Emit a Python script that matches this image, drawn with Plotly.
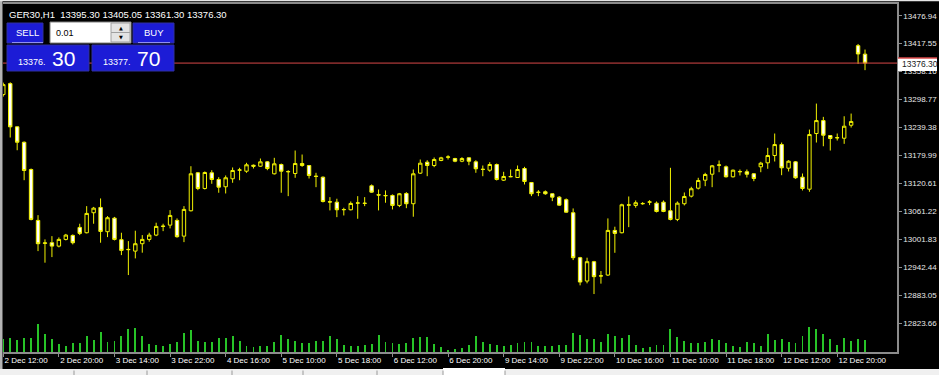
import plotly.graph_objects as go

# ---------------- data ----------------
bar_index = list(range(125))

open_ = [13309.4, 13332.7, 13240.9, 13208.2, 13150.3, 13042.2, 12993.3, 12994.8, 12987.6, 13001.8,
         13010.3, 13027.3, 13016.0, 13058.5, 13069.7, 13018.2, 13047.0, 13001.2, 12980.0, 12977.0,
         12992.7, 13001.8, 13011.0, 13030.1, 13032.2, 13042.2, 13008.8, 13062.7, 13143.3, 13110.0,
         13143.3, 13129.1, 13113.6, 13130.6, 13148.8, 13146.7, 13159.4, 13157.3, 13166.6, 13141.2,
         13160.9, 13145.4, 13141.8, 13163.0, 13158.8, 13136.1, 13134.0, 13081.8, 13080.9, 13064.8,
         13064.8, 13078.8, 13078.8, 13115.7, 13096.6, 13094.5, 13095.2, 13074.0, 13099.4, 13077.6,
         13142.5, 13165.8, 13158.8, 13169.4, 13176.4, 13173.6, 13167.9, 13175.1, 13166.6, 13150.9,
         13148.8, 13160.9, 13127.6, 13135.5, 13133.3, 13152.4, 13122.7, 13102.2, 13103.0, 13098.8,
         13091.6, 13086.1, 13058.5, 12963.0, 12913.4, 12954.5, 12924.0, 12926.1, 13020.9, 13016.0,
         13074.6, 13074.0, 13078.2, 13080.9, 13078.8, 13080.9, 13062.7, 13044.3, 13077.6, 13093.7,
         13110.6, 13127.6, 13140.3, 13159.4, 13156.0, 13134.8, 13146.1, 13145.4, 13141.2, 13156.0,
         13164.5, 13180.0, 13203.3, 13153.1, 13166.6, 13134.0, 13108.5, 13226.7, 13254.2, 13222.4,
         13217.5, 13216.7, 13244.3, 13413.3, 13395.30]

high = [13334.8, 13335.5, 13241.5, 13209.7, 13152.4, 13053.4, 13001.8, 13008.8, 13006.1, 13013.5,
        13012.4, 13035.1, 13072.5, 13070.8, 13088.8, 13051.3, 13049.6, 13016.0, 12998.2, 13020.3,
        13011.0, 13016.0, 13037.3, 13035.1, 13064.0, 13046.4, 13072.5, 13157.3, 13145.0, 13146.1,
        13148.8, 13134.0, 13137.6, 13154.6, 13153.9, 13164.5, 13160.9, 13173.6, 13168.3, 13175.1,
        13163.0, 13148.8, 13190.6, 13182.1, 13159.9, 13143.3, 13135.5, 13091.6, 13088.2, 13069.1,
        13082.4, 13093.7, 13091.6, 13118.5, 13107.9, 13105.8, 13097.3, 13100.5, 13102.2, 13150.3,
        13171.5, 13170.0, 13175.8, 13177.2, 13180.6, 13175.1, 13176.4, 13175.8, 13170.0, 13158.8,
        13165.8, 13163.0, 13145.4, 13150.3, 13158.8, 13156.0, 13123.8, 13106.4, 13105.8, 13099.4,
        13093.7, 13088.8, 13067.6, 12964.7, 12963.0, 12956.2, 12934.6, 13046.4, 13028.8, 13077.6,
        13093.0, 13084.6, 13081.0, 13085.2, 13082.4, 13084.6, 13153.9, 13082.4, 13101.5, 13113.6,
        13132.7, 13143.3, 13159.9, 13169.4, 13158.8, 13150.3, 13150.3, 13150.3, 13142.9, 13166.6,
        13196.3, 13226.7, 13207.6, 13170.0, 13168.3, 13141.8, 13235.1, 13290.3, 13262.1, 13223.5,
        13226.7, 13263.4, 13269.1, 13416.9, 13405.05]

low = [13305.2, 13218.2, 13191.2, 13127.6, 13042.2, 12977.0, 12952.4, 12964.3, 12984.9, 12999.7,
       12991.2, 13011.0, 13014.6, 13035.1, 12994.8, 13006.7, 12999.7, 12968.5, 12926.1, 12961.5,
       12973.6, 12997.0, 13008.8, 13019.4, 13025.2, 13005.4, 12996.1, 13061.2, 13106.4, 13107.9,
       13120.0, 13100.9, 13099.4, 13122.1, 13127.6, 13143.3, 13152.4, 13156.0, 13148.8, 13139.7,
       13100.9, 13093.7, 13132.7, 13156.0, 13131.2, 13112.8, 13080.3, 13063.4, 13049.1, 13052.7,
       13063.4, 13045.7, 13072.5, 13100.9, 13063.4, 13079.7, 13065.5, 13070.4, 13068.2, 13050.0,
       13140.8, 13136.1, 13155.2, 13167.9, 13171.5, 13165.8, 13165.8, 13159.4, 13143.3, 13136.1,
       13145.4, 13127.0, 13126.0, 13134.0, 13132.3, 13118.5, 13093.7, 13093.7, 13096.6, 13083.1,
       13073.3, 13058.5, 12957.9, 12904.3, 12908.5, 12885.8, 12907.9, 12924.4, 12973.4, 13014.6,
       13027.9, 13069.1, 13075.4, 13074.6, 13059.1, 13059.7, 13042.2, 13040.6, 13074.0, 13090.9,
       13107.9, 13114.9, 13112.8, 13144.6, 13133.3, 13133.3, 13137.6, 13133.3, 13125.5, 13144.6,
       13151.8, 13167.3, 13138.2, 13146.1, 13130.6, 13105.8, 13103.0, 13207.6, 13199.7, 13190.6,
       13211.8, 13204.8, 13239.4, 13374.5, 13361.30]

close = [13330.6, 13240.9, 13208.2, 13148.2, 13044.3, 12992.7, 12994.4, 12987.6, 13001.8, 13011.0,
         12994.8, 13014.6, 13057.0, 13068.2, 13018.8, 13047.9, 13001.8, 12978.5, 12980.5, 12992.7,
         13001.8, 13011.0, 13029.4, 13029.6, 13052.7, 13007.6, 13065.5, 13141.2, 13110.0, 13143.9,
         13129.1, 13112.8, 13132.7, 13148.2, 13149.3, 13160.3, 13157.3, 13166.6, 13152.4, 13162.4,
         13146.7, 13145.9, 13163.0, 13158.8, 13137.6, 13135.6, 13082.4, 13081.3, 13064.8, 13065.3,
         13078.2, 13079.3, 13078.3, 13102.2, 13096.1, 13095.0, 13074.0, 13098.8, 13077.6, 13141.2,
         13163.7, 13158.8, 13171.5, 13175.1, 13176.9, 13167.9, 13173.6, 13167.9, 13151.8, 13150.4,
         13160.9, 13129.1, 13135.5, 13135.0, 13150.3, 13124.9, 13098.8, 13101.7, 13098.8, 13091.6,
         13074.6, 13059.7, 12963.0, 12911.3, 12954.5, 12922.7, 12924.5, 13020.9, 13014.6, 13075.4,
         13075.1, 13079.7, 13077.7, 13081.4, 13061.2, 13061.2, 13044.3, 13078.8, 13093.0, 13109.4,
         13127.0, 13139.7, 13158.1, 13159.9, 13134.8, 13148.8, 13145.6, 13140.3, 13131.2, 13163.7,
         13180.0, 13203.3, 13153.9, 13167.9, 13132.7, 13110.0, 13224.5, 13254.2, 13223.1, 13216.1,
         13218.0, 13242.2, 13252.1, 13395.7, 13376.30]

volume = [1330, 1400, 1170, 1400, 1400, 2760, 1770, 1270, 800, 630,
          870, 870, 1630, 1230, 1960, 1030, 1070, 1570, 2330, 2430,
          1570, 830, 700, 630, 800, 1030, 1930, 2160, 1130, 970,
          970, 1400, 1370, 1570, 1130, 630, 530, 570, 630, 1030,
          1730, 1300, 1130, 930, 870, 1070, 1130, 1630, 1270, 670,
          630, 630, 670, 800, 1670, 1030, 930, 800, 870, 1370,
          1470, 1470, 830, 470, 230, 330, 430, 670, 1570, 970,
          800, 700, 630, 700, 870, 970, 970, 570, 570, 570,
          700, 700, 1930, 1670, 1330, 1270, 970, 1830, 1600, 1400,
          1670, 700, 370, 470, 730, 700, 2260, 1500, 1070, 900,
          900, 970, 1270, 1170, 900, 630, 470, 970, 900, 630,
          1770, 1170, 1300, 970, 870, 1600, 2460, 2260, 1770, 1300,
          730, 1400, 1070, 1270, 1170]

time_tick_bars = [0, 8, 16, 24, 32, 40, 48, 56, 64, 72, 80, 88, 96, 104, 112, 120]
time_tick_labels = ["2 Dec 12:00", "2 Dec 20:00", "3 Dec 14:00", "3 Dec 22:00", "4 Dec 16:00",
                    "5 Dec 10:00", "5 Dec 18:00", "6 Dec 12:00", "6 Dec 20:00", "9 Dec 14:00",
                    "9 Dec 22:00", "10 Dec 16:00", "11 Dec 10:00", "11 Dec 18:00", "12 Dec 12:00",
                    "12 Dec 20:00"]

price_ticks = [13476.94, 13417.55, 13358.16, 13298.77, 13239.38, 13179.99,
               13120.61, 13061.22, 13001.83, 12942.44, 12883.05, 12823.66]

symbol = "GER30,H1"
bid_price = 13376.30
ask_price = 13377.70
lot = "0.01"

# ---------------- layout geometry ----------------
W, H = 939, 375
ML, MR, MT, MB = 3, 42, 4, 23
PW = W - ML - MR
PH = H - MT - MB


def fx(px):
    return (px - ML) / PW


def fy(py):
    return (H - MB - py) / PH


AX = "#8c8c8c"
YEL = "#f2f200"
FONT = "Liberation Sans"

fig = go.Figure()

fig.add_trace(go.Bar(
    x=bar_index, y=volume, width=0.13, yaxis="y2",
    marker=dict(color="#27c427", line=dict(width=0)), showlegend=False,
))

fig.add_trace(go.Candlestick(
    x=bar_index, open=open_, high=high, low=low, close=close,
    increasing=dict(line=dict(color=YEL, width=1), fillcolor="#000000"),
    decreasing=dict(line=dict(color=YEL, width=1), fillcolor="#ffffff"),
    whiskerwidth=0, showlegend=False,
))

shapes = []
annotations = []

# bid line
shapes.append(dict(type="line", xref="paper", yref="y", x0=0, x1=1,
                   y0=close[-1], y1=close[-1], line=dict(color="#d84848", width=1)))
# bid label box on the price axis
shapes.append(dict(type="rect", xref="paper", yref="paper", x0=fx(898), x1=fx(937),
                   y0=fy(71), y1=fy(58), fillcolor="#ffffff", line=dict(width=0), layer="above"))
shapes.append(dict(type="line", xref="paper", yref="paper", x0=fx(898), x1=fx(937),
                   y0=fy(58), y1=fy(58), line=dict(color="#d84848", width=1.5), layer="above"))
annotations.append(dict(x=fx(900), y=fy(64), xanchor="left",
                        text=f"{close[-1]:.2f}",
                        font=dict(family=FONT, size=8.5, color="#202020")))

# window borders
shapes.append(dict(type="rect", xref="paper", yref="paper", x0=fx(0), x1=fx(2.5),
                   y0=fy(369), y1=fy(0), fillcolor="#b4b4b4", line=dict(width=0), layer="above"))
shapes.append(dict(type="rect", xref="paper", yref="paper", x0=fx(0), x1=fx(W),
                   y0=fy(1.2), y1=fy(0), fillcolor="#e6e6e6", line=dict(width=0), layer="above"))
# bottom tab strip
shapes.append(dict(type="rect", xref="paper", yref="paper", x0=fx(0), x1=fx(W),
                   y0=fy(H), y1=fy(369), fillcolor="#f0f0f0", line=dict(width=0), layer="above"))
shapes.append(dict(type="rect", xref="paper", yref="paper", x0=fx(443), x1=fx(505),
                   y0=fy(H), y1=fy(368), fillcolor="#ffffff", line=dict(width=0), layer="above"))
for sx in [74, 147, 232, 303, 377, 443, 505]:
    shapes.append(dict(type="line", xref="paper", yref="paper", x0=fx(sx), x1=fx(sx),
                       y0=fy(H), y1=fy(370.5), line=dict(color="#9a9a9a", width=1), layer="above"))

# header
annotations.append(dict(x=fx(7), y=fy(14), xanchor="left",
                        text=f"{symbol}  {open_[-1]:.2f} {high[-1]:.2f} {low[-1]:.2f} {close[-1]:.2f}",
                        font=dict(family=FONT, size=9.5, color="#ffffff")))

# one-click trading panel
BLUE = "#1c1cd6"
for (x0, x1, y0, y1) in [(7, 43, 23, 43), (133, 174, 23, 43), (7, 89, 45, 71), (92, 174, 45, 71)]:
    shapes.append(dict(type="rect", xref="paper", yref="paper", x0=fx(x0), x1=fx(x1),
                       y0=fy(y1), y1=fy(y0), fillcolor=BLUE,
                       line=dict(color="#3030a0", width=1), layer="above"))
for (x0, x1) in [(12, 43), (138, 170)]:
    shapes.append(dict(type="line", xref="paper", yref="paper", x0=fx(x0), x1=fx(x1),
                       y0=fy(42.5), y1=fy(42.5), line=dict(color="#8f8ff0", width=1), layer="above"))
# lot box
shapes.append(dict(type="rect", xref="paper", yref="paper", x0=fx(50), x1=fx(131),
                   y0=fy(43), y1=fy(22), fillcolor="#ffffff",
                   line=dict(color="#808080", width=1), layer="above"))
shapes.append(dict(type="rect", xref="paper", yref="paper", x0=fx(111), x1=fx(130),
                   y0=fy(32.5), y1=fy(23), fillcolor="#e4e4e4",
                   line=dict(color="#a0a0a0", width=1), layer="above"))
shapes.append(dict(type="rect", xref="paper", yref="paper", x0=fx(111), x1=fx(130),
                   y0=fy(42), y1=fy(32.5), fillcolor="#e4e4e4",
                   line=dict(color="#a0a0a0", width=1), layer="above"))
annotations += [
    dict(x=fx(27), y=fy(32.5), text="SELL", font=dict(family=FONT, size=9.5, color="#ffffff")),
    dict(x=fx(154), y=fy(32.5), text="BUY", font=dict(family=FONT, size=9.5, color="#ffffff")),
    dict(x=fx(54), y=fy(33), text=lot, xanchor="left", font=dict(family=FONT, size=9, color="#000000")),
    dict(x=fx(120.5), y=fy(28), text="▲", font=dict(family="DejaVu Sans", size=5, color="#000000")),
    dict(x=fx(120.5), y=fy(37.5), text="▼", font=dict(family="DejaVu Sans", size=5, color="#000000")),
]
bid_s = f"{bid_price:.2f}"
ask_s = f"{ask_price:.2f}"
annotations += [
    dict(x=fx(48), y=fy(61.5), xanchor="right", text=bid_s[:-2],
         font=dict(family=FONT, size=9, color="#ffffff")),
    dict(x=fx(50), y=fy(58.5), xanchor="left", text=bid_s[-2:],
         font=dict(family=FONT, size=21, color="#ffffff")),
    dict(x=fx(133), y=fy(61.5), xanchor="right", text=ask_s[:-2],
         font=dict(family=FONT, size=9, color="#ffffff")),
    dict(x=fx(135), y=fy(58.5), xanchor="left", text=ask_s[-2:],
         font=dict(family=FONT, size=21, color="#ffffff")),
]
for a in annotations:
    a.setdefault("xref", "paper")
    a.setdefault("yref", "paper")
    a.setdefault("showarrow", False)
    a.setdefault("xanchor", "center")
    a.setdefault("yanchor", "middle")

fig.update_layout(
    width=W, height=H,
    margin=dict(l=ML, r=MR, t=MT, b=MB, pad=0, autoexpand=False),
    paper_bgcolor="#000000", plot_bgcolor="#000000",
    showlegend=False, bargap=0, hovermode=False,
    shapes=shapes, annotations=annotations,
    xaxis=dict(
        type="linear", range=[-0.04, 128.6], rangeslider=dict(visible=False),
        tickmode="array", tickvals=time_tick_bars, ticktext=time_tick_labels,
        ticks="outside", ticklen=3, tickcolor=AX, tickwidth=1, tickangle=0,
        ticklabelposition="outside right", automargin=False,
        tickfont=dict(family=FONT, size=8, color="#ffffff"),
        showline=True, linecolor=AX, linewidth=1.5, mirror=True,
        showgrid=False, zeroline=False, fixedrange=True,
    ),
    yaxis=dict(
        side="right", range=[12762.7, 13501.8], automargin=False,
        tickmode="array", tickvals=price_ticks, ticktext=[f"{v:.2f}" for v in price_ticks],
        ticks="outside", ticklen=3, tickcolor=AX, tickwidth=1,
        tickfont=dict(family=FONT, size=8, color="#e8e8e8"),
        showline=True, linecolor=AX, linewidth=1.5,
        showgrid=False, zeroline=False, fixedrange=True,
    ),
    yaxis2=dict(overlaying="y", range=[0, 34800], visible=False, fixedrange=True),
)

fig.write_html("out.html", config={"displayModeBar": False})
